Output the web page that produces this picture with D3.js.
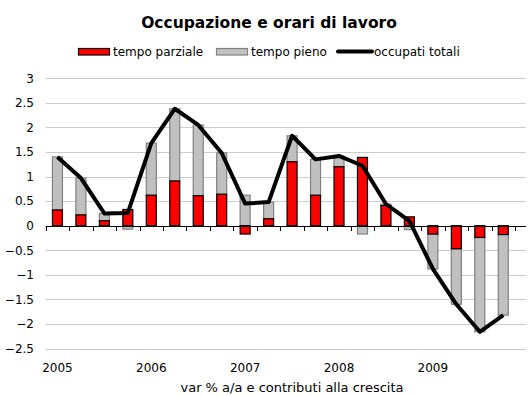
<!DOCTYPE html>
<html>
<head>
<meta charset="utf-8">
<script src="https://cdn.jsdelivr.net/npm/d3@7"></script>
<style>
  html, body { margin: 0; padding: 0; background: #fff; }
  svg { display: block; font-family: "DejaVu Sans", Verdana, sans-serif; }
</style>
</head>
<body>
<svg id="chart" width="528" height="396"></svg>
<script>
// Quarterly data, 2005 Q1 - 2009 Q4
const quarters = [
  "2005T1","2005T2","2005T3","2005T4",
  "2006T1","2006T2","2006T3","2006T4",
  "2007T1","2007T2","2007T3","2007T4",
  "2008T1","2008T2","2008T3","2008T4",
  "2009T1","2009T2","2009T3","2009T4"
];
const tempoParziale = [0.32, 0.22, 0.10, 0.33, 0.62, 0.91, 0.61, 0.64, -0.17, 0.14,
                       1.30, 0.62, 1.20, 1.39, 0.41, 0.18, -0.17, -0.47, -0.24, -0.18];
const tempoPieno    = [1.08, 0.75, 0.15, -0.07, 1.06, 1.47, 1.44, 0.84, 0.62, 0.34,
                       0.53, 0.73, 0.21, -0.17, 0.03, -0.08, -0.71, -1.13, -1.92, -1.64];
const occupatiTotali = [1.40, 0.97, 0.25, 0.26, 1.68, 2.38, 2.05, 1.48, 0.45, 0.48,
                        1.83, 1.35, 1.42, 1.22, 0.44, 0.10, -0.88, -1.60, -2.16, -1.82];
const yearLabels = ["2005", "2006", "2007", "2008", "2009"];
const yTicks = [3, 2.5, 2, 1.5, 1, 0.5, 0, -0.5, -1, -1.5, -2, -2.5];

const svg = d3.select("#chart");
const plotL = 45.7, plotR = 515, plotT = 78.3, plotB = 348.5;

const x = d3.scaleBand().domain(quarters).range([plotL, plotR]).padding(0);
const y = d3.scaleLinear().domain([-2.5, 3]).range([plotB, plotT]);
const barW = 10;
const cx = q => x(q) + x.bandwidth() / 2;

// Title
svg.append("text")
  .attr("x", 269).attr("y", 27.5)
  .attr("text-anchor", "middle")
  .attr("font-size", 15.5).attr("font-weight", "bold")
  .attr("fill", "#000")
  .text("Occupazione e orari di lavoro");

// Legend
const lg = svg.append("g").attr("font-size", 12).attr("fill", "#000");
lg.append("rect").attr("x", 78.5).attr("y", 48.5).attr("width", 31).attr("height", 6.5)
  .attr("fill", "#ff0000").attr("stroke", "#000").attr("stroke-width", 1.2);
lg.append("text").attr("x", 113).attr("y", 56).text("tempo parziale");
lg.append("rect").attr("x", 216.5).attr("y", 48.5).attr("width", 31).attr("height", 6.5)
  .attr("fill", "#c0c0c0").attr("stroke", "#808080").attr("stroke-width", 1.2);
lg.append("text").attr("x", 251).attr("y", 56).text("tempo pieno");
lg.append("line").attr("x1", 338).attr("x2", 372).attr("y1", 51.5).attr("y2", 51.5)
  .attr("stroke", "#000").attr("stroke-width", 4).attr("stroke-linecap", "round");
lg.append("text").attr("x", 374).attr("y", 56).text("occupati totali");

// Gridlines
svg.append("g").selectAll("line")
  .data(yTicks.filter(v => v !== 0))
  .join("line")
  .attr("x1", plotL).attr("x2", 526)
  .attr("y1", d => Math.round(y(d)) + 0.5).attr("y2", d => Math.round(y(d)) + 0.5)
  .attr("stroke", "#cccccc").attr("stroke-width", 1);

// Y tick labels
svg.append("g").attr("font-size", 12).attr("fill", "#000").attr("text-anchor", "end")
  .selectAll("text").data(yTicks).join("text")
  .attr("x", 34).attr("y", d => y(d)).attr("dy", "0.36em")
  .text(d => d3.format("")(d));

// Stacked bars (positive and negative parts stacked separately)
const rows = quarters.map((q, i) => ({ q, parz: tempoParziale[i], pieno: tempoPieno[i] }));
const stack = d3.stack().keys(["parz", "pieno"]).offset(d3.stackOffsetDiverging);
const series = stack(rows);
const fills = { parz: "#ff0000", pieno: "#c0c0c0" };
const strokes = { parz: "#000000", pieno: "#808080" };

// grey first so the red outline sits on top
[series[1], series[0]].forEach(s => {
  svg.append("g").selectAll("rect").data(s).join("rect")
    .attr("x", d => cx(d.data.q) - barW / 2)
    .attr("y", d => y(Math.max(d[0], d[1])))
    .attr("width", barW)
    .attr("height", d => Math.abs(y(d[0]) - y(d[1])))
    .attr("fill", fills[s.key])
    .attr("stroke", strokes[s.key])
    .attr("stroke-width", 1.2);
});

// Category axis at zero
const y0 = Math.round(y(0)) + 0.5;
svg.append("line").attr("x1", plotL).attr("x2", 526).attr("y1", y0).attr("y2", y0)
  .attr("stroke", "#000").attr("stroke-width", 1);
const boundaries = quarters.map(q => x(q)).concat([plotR]);
svg.append("g").selectAll("line").data(boundaries).join("line")
  .attr("x1", d => Math.round(d) + 0.5).attr("x2", d => Math.round(d) + 0.5)
  .attr("y1", y0).attr("y2", y0 + 4.5)
  .attr("stroke", "#000").attr("stroke-width", 1);

// Year labels under first quarter of each year
svg.append("g").attr("font-size", 12).attr("fill", "#000").attr("text-anchor", "middle")
  .selectAll("text").data(yearLabels).join("text")
  .attr("x", d => cx(d + "T1")).attr("y", 372)
  .text(d => d);

// Total employment line
svg.append("path")
  .datum(quarters.map((q, i) => [cx(q), y(occupatiTotali[i])]))
  .attr("d", d3.line())
  .attr("fill", "none").attr("stroke", "#000").attr("stroke-width", 4)
  .attr("stroke-linejoin", "round");

// Axis caption
svg.append("text").attr("x", 292).attr("y", 392).attr("text-anchor", "middle")
  .attr("font-size", 13).attr("fill", "#000")
  .text("var % a/a e contributi alla crescita");
</script>
</body>
</html>
